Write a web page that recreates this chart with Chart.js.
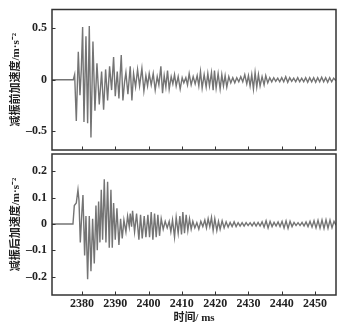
<!DOCTYPE html>
<html lang="zh">
<head>
  <meta charset="UTF-8">
  <title>减振前后加速度</title>
  <style>
    body { margin: 0; background: #ffffff; }
    #wrap { position: relative; width: 352px; height: 326px; }
    canvas { position: absolute; left: 0; }
    #topChart { top: 0; }
    #bottomChart { top: 152px; }
  </style>
  <script src="https://cdn.jsdelivr.net/npm/chart.js"></script>
</head>
<body>
  <div id="wrap">
    <canvas id="topChart" width="352" height="152"></canvas>
    <canvas id="bottomChart" width="352" height="174"></canvas>
  </div>
  <script>
    // time axis (ms)
    const timeMin = 2371;
    const timeMax = 2456.3;
    const timeStep = 10;

    // before damping: peak / trough times and values
    const beforeTime = [
      2371, 2377.4, 2377.8, 2378.3, 2378.9, 2379.4, 2379.8, 2380.2, 2380.6, 2381.2,
      2381.7, 2382.2, 2382.7, 2383.3, 2383.9, 2384.5, 2385.2, 2385.9, 2386.5, 2387.1,
      2387.7, 2388.3, 2388.9, 2389.5, 2390.0, 2390.6, 2391.1, 2391.8, 2392.3, 2392.8,
      2393.2, 2393.8, 2394.5, 2395.0, 2395.5, 2396.1, 2396.7, 2397.3, 2398.0, 2398.6,
      2399.2, 2399.7, 2400.2, 2400.8, 2401.4, 2402.0, 2402.6, 2403.1, 2403.7, 2404.2,
      2404.7, 2405.2, 2405.7, 2406.2, 2406.8, 2407.3, 2407.8, 2408.3, 2408.9, 2409.5,
      2410.1, 2410.6, 2411.2, 2411.7, 2412.2, 2412.8, 2413.4, 2414.0, 2414.6, 2415.1,
      2415.6, 2416.1, 2416.7, 2417.3, 2417.8, 2418.3, 2418.9, 2419.4, 2419.8, 2420.3,
      2420.9, 2421.5, 2422.0, 2422.5, 2423.0, 2423.5, 2424.1, 2424.7, 2425.3, 2425.9,
      2426.5, 2427.1, 2427.7, 2428.3, 2428.9, 2429.5, 2430.0, 2430.5, 2431.0, 2431.5,
      2432.0, 2432.5, 2433.0, 2433.5, 2434.1, 2434.7, 2435.2, 2435.8, 2436.4, 2437.0,
      2437.6, 2438.2, 2438.8, 2439.4, 2440.0, 2440.6, 2441.2, 2441.8, 2442.4, 2443.0,
      2443.6, 2444.2, 2444.8, 2445.4, 2446.0, 2446.6, 2447.2, 2447.8, 2448.4, 2449.0,
      2449.6, 2450.2, 2450.8, 2451.4, 2452.0, 2452.6, 2453.2, 2453.8, 2454.4, 2455.0,
      2455.6, 2456.3
    ];
    const beforeValue = [
      0, 0, 0.05, -0.40, 0.27, -0.15, 0.10, 0.51, -0.41, 0.42,
      -0.42, 0.52, -0.56, 0.37, -0.30, 0.16, -0.24, 0.08, -0.29, 0.10,
      -0.20, 0.13, -0.10, 0.22, -0.16, 0.08, -0.18, 0.24, -0.20, -0.02,
      0.07, -0.14, 0.13, -0.20, 0.06, -0.07, 0.10, -0.06, 0.11, -0.11,
      0.04, -0.06, 0.06, -0.05, 0.06, -0.10, 0.03, -0.05, 0.13, -0.13,
      0.04, -0.07, 0.09, -0.09, 0.03, -0.04, 0.05, -0.06, 0.03, -0.09,
      0.02, -0.03, 0.02, -0.05, 0.06, -0.05, 0.03, -0.04, 0.04, -0.06,
      0.08, -0.08, 0.05, -0.07, 0.06, -0.06, 0.07, -0.10, 0.09, -0.08,
      0.06, -0.09, 0.05, -0.06, 0.04, -0.07, 0.03, -0.03, 0.02, -0.03,
      0.02, -0.02, 0.03, -0.02, 0.05, -0.04, 0.04, -0.06, 0.05, -0.09,
      0.07, -0.07, 0.05, -0.06, 0.03, -0.05, 0.04, -0.03, 0.02, -0.02,
      0.02, -0.015, 0.015, -0.02, 0.02, -0.02, 0.03, -0.025, 0.02, -0.015,
      0.015, -0.02, 0.02, -0.02, 0.015, -0.02, 0.02, -0.025, 0.02, -0.02,
      0.02, -0.025, 0.02, -0.02, 0.025, -0.02, 0.02, -0.025, 0.02, -0.02,
      0.015, -0.01
    ];

    // after damping
    const afterTime = [
      2371, 2377.3, 2377.7, 2378.3, 2378.8, 2379.1, 2379.5, 2380.0, 2380.3, 2380.8,
      2381.2, 2381.7, 2382.2, 2382.7, 2383.2, 2383.7, 2384.2, 2384.6, 2385.0, 2385.4,
      2385.8, 2386.2, 2386.7, 2387.2, 2387.7, 2388.2, 2388.7, 2389.1, 2389.5, 2390.0,
      2390.5, 2391.1, 2391.6, 2392.1, 2392.6, 2393.2, 2393.7, 2394.2, 2394.5, 2394.9,
      2395.2, 2395.8, 2396.4, 2397.1, 2397.6, 2398.1, 2398.7, 2399.2, 2399.8, 2400.3,
      2400.8, 2401.3, 2401.8, 2402.3, 2402.8, 2403.3, 2403.8, 2404.4, 2405.0, 2405.6,
      2406.2, 2406.7, 2407.2, 2407.8, 2408.3, 2408.9, 2409.4, 2409.9, 2410.3, 2410.8,
      2411.3, 2411.8, 2412.3, 2412.8, 2413.3, 2413.9, 2414.5, 2415.1, 2415.7, 2416.3,
      2416.9, 2417.4, 2417.9, 2418.4, 2418.9, 2419.4, 2419.9, 2420.5, 2421.0, 2421.5,
      2422.1, 2422.7, 2423.3, 2423.9, 2424.5, 2425.1, 2425.7, 2426.3, 2426.9, 2427.5,
      2428.1, 2428.7, 2429.3, 2429.9, 2430.5, 2431.1, 2431.7, 2432.3, 2432.9, 2433.5,
      2434.1, 2434.7, 2435.3, 2435.9, 2436.5, 2437.1, 2437.7, 2438.3, 2438.9, 2439.5,
      2440.1, 2440.7, 2441.3, 2441.9, 2442.5, 2443.1, 2443.7, 2444.3, 2444.9, 2445.5,
      2446.1, 2446.7, 2447.3, 2447.9, 2448.5, 2449.1, 2449.7, 2450.3, 2450.9, 2451.5,
      2452.1, 2452.7, 2453.3, 2453.9, 2454.5, 2455.1, 2455.7, 2456.3
    ];
    const afterValue = [
      0, 0, 0.07, 0.08, 0.13, 0.09, -0.07, 0.05, 0.11, -0.12,
      0.03, -0.21, 0.03, -0.18, 0.02, -0.15, 0.07, -0.10, 0.085, -0.07,
      0.13, -0.06, 0.17, -0.07, 0.16, -0.09, 0.13, -0.09, 0.08, -0.06,
      0.06, -0.08, 0.02, -0.055, 0.015, -0.03, 0.03, -0.01, 0.04, -0.01,
      0.05, -0.03, 0.04, -0.06, 0.035, -0.055, 0.03, -0.05, 0.035, -0.05,
      0.045, -0.06, 0.04, -0.05, 0.035, -0.045, 0.02, -0.02, 0.01, -0.015,
      0.01, -0.03, 0.015, -0.05, 0.025, -0.035, 0.03, -0.04, 0.045, -0.035,
      0.035, -0.025, 0.02, -0.02, 0.01, -0.015, 0.005, -0.02, 0.01, -0.01,
      0.015, -0.015, 0.02, -0.01, 0.025, -0.025, 0.02, -0.025, 0.01, -0.02,
      0.012, -0.015, 0.008, -0.012, 0.006, -0.01, 0.008, -0.01, 0.005, -0.008,
      0.005, -0.008, 0.005, -0.006, 0.005, -0.007, 0.006, -0.008, 0.006, -0.008,
      0.008, -0.012, 0.012, -0.015, 0.01, -0.01, 0.006, -0.008, 0.008, -0.01,
      0.01, -0.015, 0.012, -0.017, 0.01, -0.01, 0.006, -0.006, 0.005, -0.006,
      0.006, -0.008, 0.008, -0.01, 0.01, -0.012, 0.012, -0.015, 0.014, -0.016,
      0.015, -0.017, 0.016, -0.016, 0.015, -0.014, 0.01, -0.005
    ];

    const serif = '"Liberation Serif", "Noto Sans CJK SC", serif';
    const textColor = '#222';

    function fmt(v) {
      if (Math.abs(v) < 1e-9) return '0';
      return (v < 0 ? '\u2013' : '') + Math.abs(v).toFixed(1);
    }

    // box around the plot and inward tick marks
    const frame = {
      id: 'frame',
      afterDraw(chart) {
        const { ctx, chartArea: a, scales } = chart;
        ctx.save();
        ctx.strokeStyle = '#333';
        ctx.lineWidth = 1.5;
        ctx.strokeRect(a.left, a.top, a.right - a.left, a.bottom - a.top);
        ctx.lineWidth = 1;
        ctx.beginPath();
        scales.x.ticks.forEach(t => {
          const px = Math.round(scales.x.getPixelForValue(t.value)) + 0.5;
          ctx.moveTo(px, a.bottom);
          ctx.lineTo(px, a.bottom - 3.5);
        });
        scales.y.ticks.forEach(t => {
          const py = Math.round(scales.y.getPixelForValue(t.value)) + 0.5;
          ctx.moveTo(a.left, py);
          ctx.lineTo(a.left + 3.5, py);
        });
        ctx.stroke();
        ctx.restore();
      }
    };

    function makeChart(id, times, values, yMin, yMax, yStep, yTitle, showX) {
      const points = times.map((t, i) => ({ x: t, y: values[i] }));
      return new Chart(document.getElementById(id), {
        type: 'line',
        data: {
          datasets: [{
            data: points,
            borderColor: '#747474',
            borderWidth: 1.4,
            pointRadius: 0,
            tension: 0,
            fill: false
          }]
        },
        options: {
          responsive: false,
          animation: false,
          devicePixelRatio: 1,
          layout: { padding: showX ? { left: 0, right: 16, top: 2, bottom: 0 } : { left: 0, right: 16, top: 9.5, bottom: 2 } },
          plugins: { legend: { display: false }, tooltip: { enabled: false } },
          scales: {
            x: {
              type: 'linear',
              min: timeMin,
              max: timeMax,
              display: showX,
              grid: { display: false, drawTicks: false },
              border: { display: false },
              afterFit: s => {
                s.height = showX ? 31 : 0;
                s.paddingLeft = 0;
                s.paddingRight = 0;
              },
              ticks: {
                stepSize: timeStep,
                includeBounds: false,
                padding: 2,
                color: textColor,
                font: { family: serif, size: 12, weight: 'bold' },
                maxRotation: 0,
                callback: v => String(v)
              },
              title: {
                display: true,
                text: '时间/ ms',
                color: textColor,
                font: { family: serif, size: 11, weight: 'bold' },
                padding: { top: 0, bottom: 1.5 }
              }
            },
            y: {
              min: yMin,
              max: yMax,
              grid: { display: false, drawTicks: false },
              border: { display: false },
              afterFit: s => {
                s.width = 52;
                s.paddingTop = 0;
                s.paddingBottom = 0;
              },
              ticks: {
                stepSize: yStep,
                includeBounds: false,
                padding: 5,
                color: textColor,
                font: { family: serif, size: 12, weight: 'bold' },
                callback: v => fmt(v)
              },
              title: {
                display: true,
                text: yTitle,
                color: textColor,
                font: { family: serif, size: 11, weight: 'bold' },
                padding: { top: 9.4, bottom: 0 }
              }
            }
          }
        },
        plugins: [frame]
      });
    }

    makeChart('topChart', beforeTime, beforeValue, -0.68, 0.68, 0.5, '减振前加速度/m·s⁻²', false);
    makeChart('bottomChart', afterTime, afterValue, -0.27, 0.266, 0.1, '减振后加速度/m·s⁻²', true);
  </script>
</body>
</html>
